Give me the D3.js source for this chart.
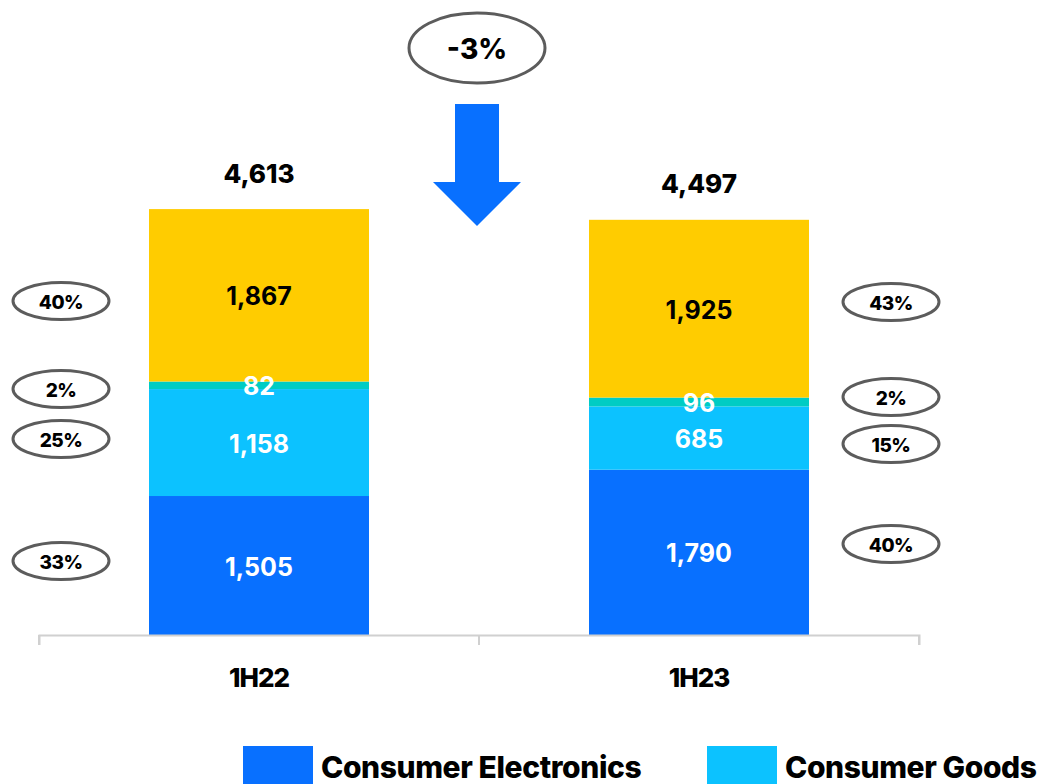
<!DOCTYPE html>
<html>
<head>
<meta charset="utf-8">
<script src="https://cdn.jsdelivr.net/npm/d3@7"></script>
<style>
  html, body { margin: 0; padding: 0; background: #fff; }
  svg { display: block; font-family: Inter, "Open Sans", sans-serif; }
</style>
</head>
<body>
<svg id="chart" width="1045" height="784"></svg>
<script>
// Half-year revenue by segment
const periods = ["1H22", "1H23"];
const segments = ["Consumer Electronics", "Consumer Goods", "Other", "Services"];
const consumerElectronics = [1505, 1790];
const consumerGoods = [1158, 685];
const other = [82, 96];
const services = [1867, 1925];
const totals = [4613, 4497];
const shareLabels = [
  ["33%", "25%", "2%", "40%"],
  ["40%", "15%", "2%", "43%"]
];
const changeLabel = "-3%";
const legendItems = ["Consumer Electronics", "Consumer Goods"];

const colors = ["#0870FF", "#0CC2FF", "#00CCC4", "#FFCC00"];
const labelColors = ["#fff", "#fff", "#fff", "#000"];

const svg = d3.select("#chart");

const rows = periods.map((p, i) => ({
  period: p,
  "Consumer Electronics": consumerElectronics[i],
  "Consumer Goods": consumerGoods[i],
  "Other": other[i],
  "Services": services[i]
}));

const stacked = d3.stack().keys(segments)(rows);

const x = d3.scaleBand().domain(periods).range([39, 919]).paddingInner(0).paddingOuter(0);
const barW = 220;
const y = d3.scaleLinear().domain([0, 4613]).range([635, 209]);

// Stacked bars
const layer = svg.append("g").selectAll("g").data(stacked).join("g")
  .attr("fill", (d, i) => colors[i]);
layer.selectAll("rect").data(d => d).join("rect")
  .attr("x", d => x(d.data.period) + (x.bandwidth() - barW) / 2)
  .attr("width", barW)
  .attr("y", d => y(d[1]))
  .attr("height", d => y(d[0]) - y(d[1]));

// Segment value labels
stacked.forEach((s, si) => {
  svg.append("g").selectAll("text").data(s).join("text")
    .attr("x", d => x(d.data.period) + x.bandwidth() / 2)
    .attr("y", d => (y(d[0]) + y(d[1])) / 2 + 1)
    .attr("text-anchor", "middle")
    .attr("dominant-baseline", "central")
    .attr("fill", labelColors[si])
    .attr("font-size", 25)
    .attr("font-weight", 700)
    .text(d => d3.format(",")(d[1] - d[0]));
});

// Totals above bars
svg.append("g").selectAll("text").data(periods).join("text")
  .attr("x", p => x(p) + x.bandwidth() / 2)
  .attr("y", (p, i) => y(totals[i]) - 36)
  .attr("text-anchor", "middle")
  .attr("dominant-baseline", "central")
  .attr("font-size", 26)
  .attr("font-weight", 800)
  .attr("fill", "#000")
  .text((p, i) => d3.format(",")(totals[i]));

// Category axis with ticks at band edges
const axis = svg.append("g").attr("transform", "translate(0,635)")
  .call(d3.axisBottom(x).tickSize(10).tickSizeOuter(10).tickFormat(""));
axis.select(".domain").attr("stroke", "#d0d0d0").attr("stroke-width", 2);
axis.selectAll(".tick line").attr("stroke", "#d0d0d0").attr("stroke-width", 2)
  .attr("transform", `translate(${x.bandwidth() / 2},0)`);
axis.selectAll(".tick").filter((d, i) => i === periods.length - 1).select("line").remove();
svg.append("g").selectAll("line").data(x.range()).join("line")
  .attr("x1", d => d).attr("x2", d => d).attr("y1", 635).attr("y2", 645)
  .attr("stroke", "#d0d0d0").attr("stroke-width", 2);

svg.append("g").selectAll("text").data(periods).join("text")
  .attr("x", p => x(p) + x.bandwidth() / 2)
  .attr("y", 677)
  .attr("text-anchor", "middle")
  .attr("dominant-baseline", "central")
  .attr("font-size", 26)
  .attr("font-weight", 800)
  .attr("letter-spacing", -1)
  .text(p => p);

// Share callouts in ellipses beside each bar
const shareX = [61, 891];
const shareY = [
  [561, 439, 389, 301],
  [544, 444, 397, 302]
];
periods.forEach((p, pi) => {
  const g = svg.append("g");
  shareLabels[pi].forEach((lab, si) => {
    g.append("ellipse")
      .attr("cx", shareX[pi]).attr("cy", shareY[pi][si])
      .attr("rx", 48).attr("ry", 18.5)
      .attr("fill", "#fff").attr("stroke", "#5c5c5c").attr("stroke-width", 3);
    g.append("text")
      .attr("x", shareX[pi]).attr("y", shareY[pi][si] + 1)
      .attr("text-anchor", "middle").attr("dominant-baseline", "central")
      .attr("font-size", 19).attr("font-weight", 800)
      .attr("letter-spacing", -0.5)
      .text(lab);
  });
});

// Year-over-year change callout and arrow
const cx = (x(periods[0]) + x(periods[1]) + x.bandwidth()) / 2 - 2;
svg.append("ellipse").attr("cx", cx).attr("cy", 48).attr("rx", 68).attr("ry", 35)
  .attr("fill", "#fff").attr("stroke", "#5c5c5c").attr("stroke-width", 3);
svg.append("text").attr("x", cx).attr("y", 49)
  .attr("text-anchor", "middle").attr("dominant-baseline", "central")
  .attr("font-size", 28).attr("font-weight", 800)
  .text(changeLabel);
const arrow = d3.path();
arrow.moveTo(cx - 22, 104);
arrow.lineTo(cx + 22, 104);
arrow.lineTo(cx + 22, 182);
arrow.lineTo(cx + 44, 182);
arrow.lineTo(cx, 226);
arrow.lineTo(cx - 44, 182);
arrow.lineTo(cx - 22, 182);
arrow.closePath();
svg.append("path").attr("d", arrow.toString()).attr("fill", colors[0]);

// Legend
const legendX = [243, 707];
const lg = svg.append("g").selectAll("g").data(legendItems).join("g")
  .attr("transform", (d, i) => `translate(${legendX[i]},746)`);
lg.append("rect").attr("width", 70).attr("height", 40).attr("fill", (d, i) => colors[i]);
lg.append("text").attr("x", 78).attr("y", 21)
  .attr("dominant-baseline", "central")
  .attr("font-size", 30).attr("font-weight", 800)
  .attr("letter-spacing", -0.4)
  .text(d => d);
</script>
</body>
</html>
